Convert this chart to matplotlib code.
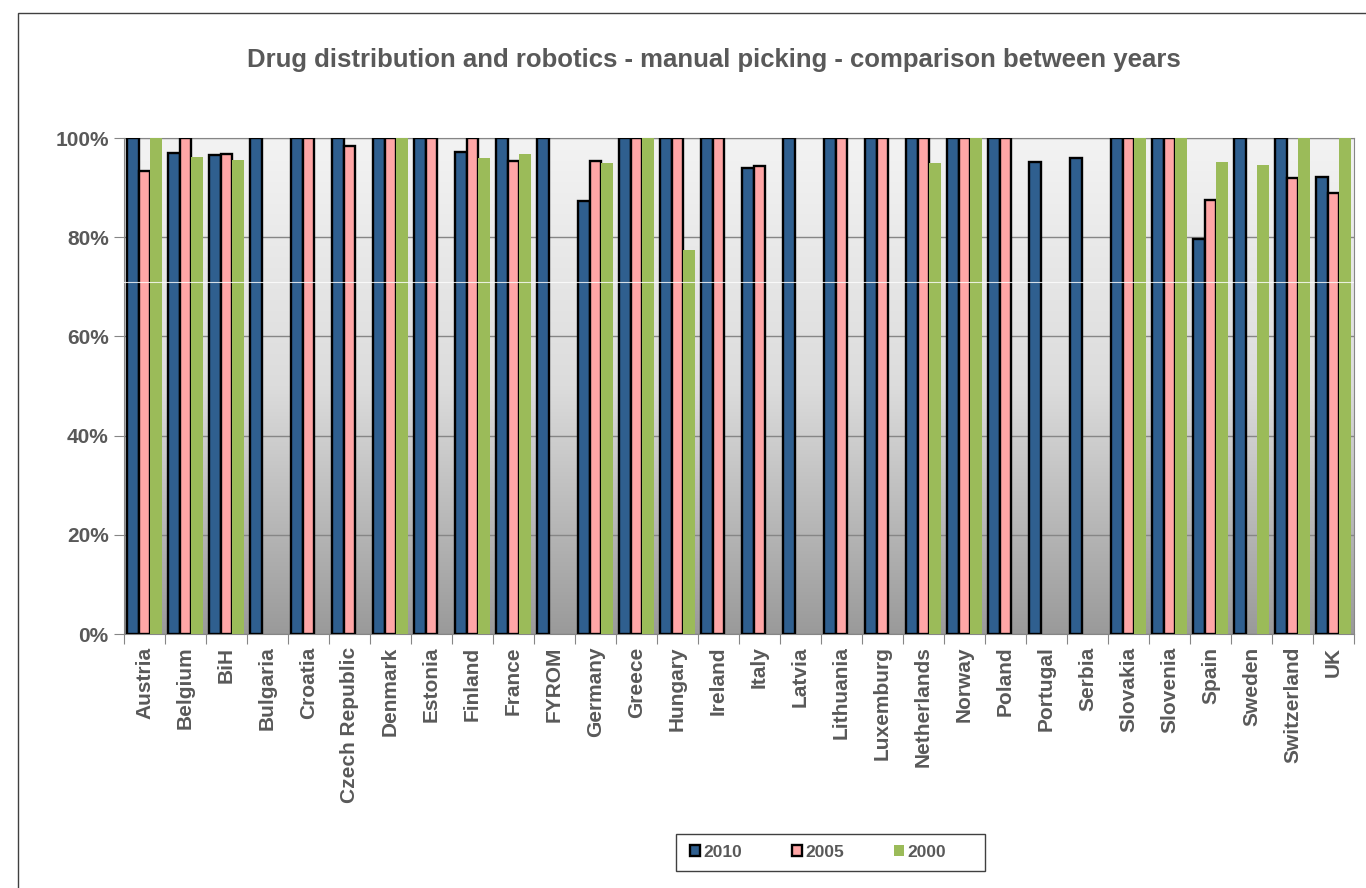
import matplotlib.pyplot as plt
import numpy as np
from matplotlib.patches import Rectangle
from matplotlib.colors import LinearSegmentedColormap

plt.rcParams['font.family'] = ['Liberation Sans', 'DejaVu Sans']

countries = ['Austria', 'Belgium', 'BiH', 'Bulgaria', 'Croatia', 'Czech Republic',
             'Denmark', 'Estonia', 'Finland', 'France', 'FYROM', 'Germany', 'Greece',
             'Hungary', 'Ireland', 'Italy', 'Latvia', 'Lithuania', 'Luxemburg',
             'Netherlands', 'Norway', 'Poland', 'Portugal', 'Serbia', 'Slovakia',
             'Slovenia', 'Spain', 'Sweden', 'Switzerland', 'UK']
# share of manual picking (%), nan = no data
y2010 = [100, 96.9, 96.6, 100, 100, 100, 100, 100, 97.2, 100, 100, 87.2, 100,
         100, 100, 93.9, 100, 100, 100, 100, 100, 100, 95.2, 95.9, 100, 100,
         79.6, 100, 100, 92.2]
y2005 = [93.4, 100, 96.7, np.nan, 100, 98.4, 100, 100, 100, 95.3, np.nan, 95.4, 100,
         100, 100, 94.4, np.nan, 100, 100, 100, 100, 100, np.nan, np.nan, 100, 100,
         87.4, np.nan, 91.9, 88.9]
y2000 = [100, 96.2, 95.6, np.nan, np.nan, np.nan, 100, np.nan, 95.9, 96.8, np.nan, 95.0, 100,
         77.5, np.nan, np.nan, np.nan, np.nan, np.nan, 95.0, 100, np.nan, np.nan, np.nan, 100, 100,
         95.2, 94.6, 100, 100]

txt = '#595959'
grid = '#868686'
W, H = 1366, 888

fig = plt.figure(figsize=(13.66, 8.88), dpi=100)
ax = fig.add_axes([124/W, 1 - 634/H, 1230/W, 496/H])

# outer chart frame
fig.patches.append(Rectangle((18/W, -0.1), 1.2, 1 - 13/H + 0.1, transform=fig.transFigure,
                             fill=False, edgecolor='#404040', linewidth=1))

x = np.arange(len(countries))
w = 0.29
ax.bar(x - w, y2010, w, color='#2f5f8f', edgecolor='black', linewidth=1.7, zorder=3, label='2010')
ax.bar(x, y2005, w, color='#ffa6a6', edgecolor='black', linewidth=1.7, zorder=3, label='2005')
ax.bar(x + w, y2000, w, color='#9bbb59', edgecolor='none', zorder=3, label='2000')

# gradient background, dark at the bottom
grad = np.linspace(0, 1, 256).reshape(-1, 1)
cm = LinearSegmentedColormap.from_list('bg', ['#9a9a9a', '#dcdcdc', '#f3f3f3'])
ax.imshow(grad, extent=[-0.5, len(countries) - 0.5, 0, 100], aspect='auto', cmap=cm,
          zorder=0, origin='lower')
ax.set_xlim(-0.5, len(countries) - 0.5)
ax.set_ylim(0, 100)
ax.axhline(70.9, color='white', linewidth=0.8, alpha=0.8, zorder=4)

ax.set_yticks([0, 20, 40, 60, 80, 100])
ax.set_yticklabels(['0%', '20%', '40%', '60%', '80%', '100%'])
ax.yaxis.grid(True, color=grid, linewidth=1, zorder=1)
ax.set_axisbelow(False)

ax.set_xticks(np.arange(-0.5, len(countries)), minor=False)
ax.set_xticklabels([])
ax.set_xticks(x, minor=True)
ax.set_xticklabels(countries, minor=True, rotation=90, fontsize=15, fontweight='bold', color=txt)
ax.tick_params(axis='x', which='minor', length=0, pad=9)
ax.tick_params(axis='x', which='major', length=7, color=grid)
ax.tick_params(axis='y', length=7, color=grid, labelsize=15, labelcolor=txt, pad=4)
for t in ax.get_yticklabels():
    t.set_fontweight('bold')

for s in ax.spines.values():
    s.set_color(grid)

fig.text(714/W, 1 - 60/H, 'Drug distribution and robotics - manual picking - comparison between years',
         ha='center', va='center', fontsize=18.5, fontweight='bold', color=txt)

# legend box drawn by hand, entries inside it
fig.patches.append(Rectangle((676/W, 1 - 871/H), 309/W, 37/H, transform=fig.transFigure,
                             fill=False, edgecolor='#404040', linewidth=1))
leg = fig.legend(loc='center', bbox_to_anchor=(818/W, 1 - 852/H), ncol=3, frameon=False,
                 fontsize=12.5, handlelength=0.6, handleheight=0.6, handletextpad=0.2,
                 columnspacing=2.85, borderpad=0)
for t in leg.get_texts():
    t.set_fontweight('bold')
    t.set_color(txt)

fig.savefig('out.png', dpi=100)
